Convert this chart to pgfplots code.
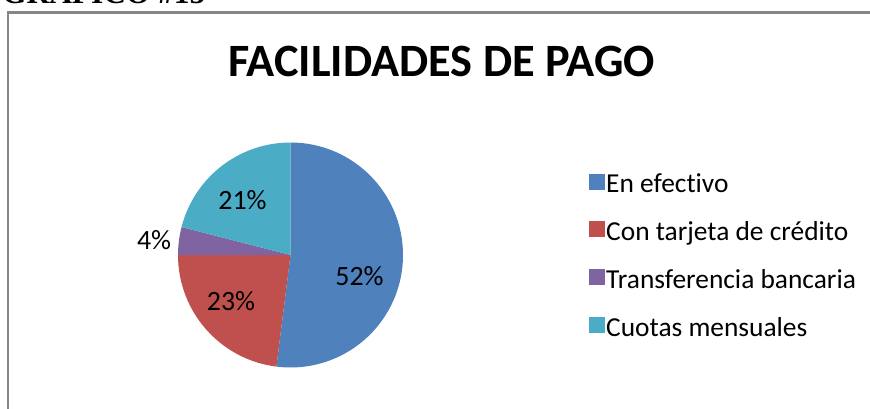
\documentclass[border=0pt]{standalone}
\usepackage{pgfplots}
\usepackage{pgfplotstable}
\pgfplotsset{compat=1.18}
\usepackage{fontspec}
\setmainfont{Carlito}[Ligatures=NoCommon]
\newfontfamily\serifb{Liberation Serif}
\definecolor{pieblue}{HTML}{4F81BD}
\definecolor{piered}{HTML}{C0504D}
\definecolor{piepurple}{HTML}{8064A2}
\definecolor{piecyan}{HTML}{4BACC6}
\definecolor{framegray}{HTML}{868686}

\pgfplotstableread{
value
52
23
4
21
}\piedata

\begin{document}
\begin{tikzpicture}[x=1bp,y=1bp]
\useasboundingbox (0,0) rectangle (870,408);
\clip (0,0) rectangle (870,408);
\fill[white] (0,0) rectangle (870,408);
\node[anchor=base west, inner sep=0pt, font=\serifb\bfseries\fontsize{31.5}{31.5}\selectfont] at (2,404) {GRÁFICO \#15};
\draw[line width=2.2bp, framegray] (7.8,-10) -- (7.8,395.5) -- (880,395.5);
\node[anchor=base, inner sep=0pt, font=\bfseries\fontsize{46.5}{46.5}\selectfont] at (441.7,331.5) {FACILIDADES DE PAGO};

\pgfplotstablegetelem{0}{value}\of\piedata \let\va\pgfplotsretval
\pgfplotstablegetelem{1}{value}\of\piedata \let\vb\pgfplotsretval
\pgfplotstablegetelem{2}{value}\of\piedata \let\vc\pgfplotsretval
\pgfplotstablegetelem{3}{value}\of\piedata \let\vd\pgfplotsretval
\pgfmathsetmacro\aA{90}
\pgfmathsetmacro\aB{\aA-3.6*\va}
\pgfmathsetmacro\aC{\aB-3.6*\vb}
\pgfmathsetmacro\aD{\aC-3.6*\vc}
\pgfmathsetmacro\aE{\aD-3.6*\vd}

\begin{axis}[
  at={(290.5bp,153bp)}, anchor=center,
  scale only axis, width=225bp, height=225bp,
  xmin=-1, xmax=1, ymin=-1, ymax=1,
  hide axis, clip=false,
  legend cell align=left,
  legend image code/.code={\fill[#1] (0bp,-5bp) rectangle (15bp,10bp);},
  legend style={at={(axis description cs:1.825,0.497)}, anchor=west, draw=none, fill=none,
    inner sep=0pt, row sep=23.3bp,
    font=\fontsize{27.5}{30}\selectfont},
]
\addlegendimage{pieblue}
\addlegendentry{En efectivo}
\addlegendimage{piered}
\addlegendentry{Con tarjeta de crédito}
\addlegendimage{piepurple}
\addlegendentry{Transferencia bancaria}
\addlegendimage{piecyan}
\addlegendentry{Cuotas mensuales}
\fill[pieblue] (axis cs:0,0) -- (axis cs:{cos(\aA)},{sin(\aA)}) arc[start angle=\aA, end angle=\aB, radius=112.5bp] -- cycle;
\fill[piered] (axis cs:0,0) -- (axis cs:{cos(\aB)},{sin(\aB)}) arc[start angle=\aB, end angle=\aC, radius=112.5bp] -- cycle;
\fill[piepurple] (axis cs:0,0) -- (axis cs:{cos(\aC)},{sin(\aC)}) arc[start angle=\aC, end angle=\aD, radius=112.5bp] -- cycle;
\fill[piecyan] (axis cs:0,0) -- (axis cs:{cos(\aD)},{sin(\aD)}) arc[start angle=\aD, end angle=\aE, radius=112.5bp] -- cycle;
\begin{scope}[font=\fontsize{28}{30}\selectfont]
\node at (axis cs:0.613,-0.187) {52\%};
\node at (axis cs:-0.529,-0.409) {23\%};
\node at (axis cs:-0.427,0.484) {21\%};
\node at (axis cs:-1.213,0.133) {4\%};
\end{scope}
\end{axis}
\end{tikzpicture}
\end{document}
